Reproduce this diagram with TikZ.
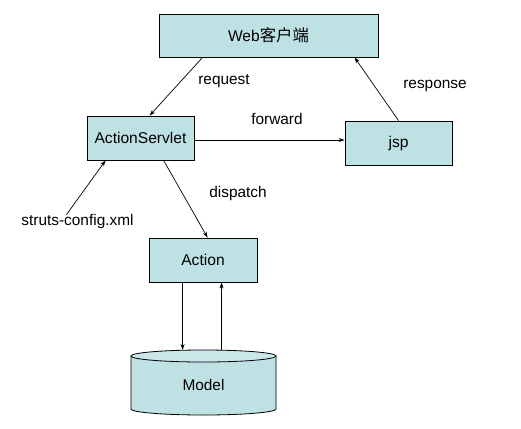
\documentclass[tikz,border=0pt]{standalone}
\usepackage{fontspec}
\setmainfont{Liberation Sans}
\newfontfamily\cjk{Noto Sans CJK SC}[Scale=1.05]
\usetikzlibrary{arrows.meta,calc}
\definecolor{boxfill}{RGB}{190,225,228}
\begin{document}
\begin{tikzpicture}[x=1pt,y=-1pt,
  box/.style={draw=black,line width=0.8pt,fill=boxfill,inner sep=0pt,font=\fontsize{15.6}{18}\selectfont},
  lbl/.style={font=\fontsize{15.4}{18}\selectfont,inner sep=0pt},
  arr/.style={line width=0.7pt,-{Stealth[length=6pt,width=4pt]}}]
\useasboundingbox[fill=white] (0,0) rectangle (521,428);
\node[box,minimum width=219pt,minimum height=43pt] (web) at (268.5,35.5) {Web{\cjk 客户端}};
\node[box,minimum width=107pt,minimum height=44pt] (servlet) at (140.5,138) {ActionServlet};
\node[box,minimum width=107pt,minimum height=44pt] (jsp) at (398.5,143) {jsp};
\node[box,minimum width=108pt,minimum height=44pt] (action) at (203,260) {Action};
% cylinder
\fill[boxfill] (131,356) -- (131,409) arc (180:0:72.5 and 6) -- (276,356) arc (0:180:72.5 and 6) -- cycle;
\draw[line width=0.8pt] (131,356) -- (131,409) arc (180:0:72.5 and 6) -- (276,356);
\draw[line width=0.8pt,fill=boxfill!80!white] (203.5,356) ellipse (72.5 and 6);
\node[lbl] (model) at (203.5,385) {Model};
\coordinate (modeltop) at (203.5,350);
% labels
\node[lbl] (req) at (224,81) {request};
\node[lbl] (fwd) at (277,119) {forward};
\node[lbl] (resp) at (435,86) {response};
\node[lbl] (disp) at (238,194) {dispatch};
\node[lbl] (struts) at (77.5,222) {struts-config.xml};
% connectors
\draw[arr] ($(web.south west)+(44,0)$) -- ($(servlet.north west)+(63,0)$);
\draw[arr] (jsp.north) -- ($(web.south west)+(196,0)$);
\coordinate (fstart) at ($(servlet.east)+(0,2)$);
\draw[arr] (fstart) -- (fstart -| jsp.west);
\draw[arr] ($(servlet.south west)+(77,0)$) -- ($(action.north west)+(59,0)$);
\draw[arr] ($(struts.north)+(-11,0)$) -- ($(servlet.south west)+(19,0)$);
\coordinate (d1) at ($(action.south west)+(34,0)$);
\coordinate (u1) at ($(action.south west)+(73,0)$);
\draw[arr] (d1) -- (d1 |- modeltop);
\draw[arr] (u1 |- modeltop) -- (u1);
\end{tikzpicture}
\end{document}
